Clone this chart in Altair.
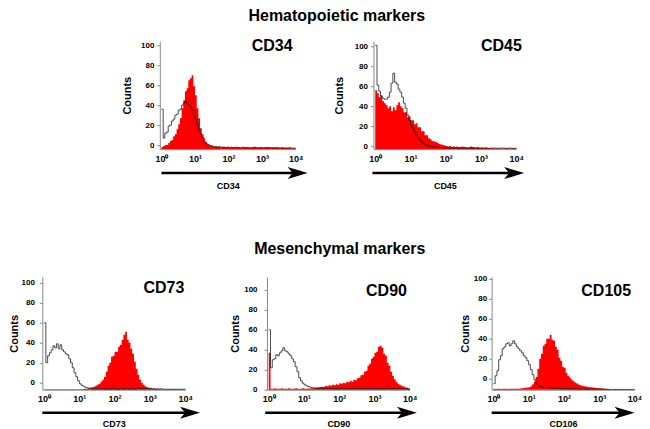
import altair as alt
import pandas as pd

STEP = 0.05  # bin width in decades (log10 units)

# ---- histogram counts per bin, starting at 10^0 ----
cd34_sample = [
    2, 3, 4, 4, 6, 8, 9, 13, 15, 20,
    25, 31, 41, 49, 58, 61, 69, 71, 74, 63,
    54, 41, 31, 21, 15, 11, 7, 5, 4, 3,
    3, 2, 2.5, 2, 2, 1.5, 2, 2, 1.5, 2,
    1.5, 1.5, 2, 1.5, 1.5, 2, 1.5, 1, 1.5, 1.5,
    2, 1.5, 1.5, 1, 1.5, 2, 1.5, 1, 1.5, 1.5,
    1, 1.5, 1.5, 2, 1.5, 1, 1.5, 1, 1.5, 1,
    1, 1.5, 1, 1, 1.5, 1, 1, 0.5, 1, 0.5,
    0]
cd34_control = [
    40, 11, 16, 17, 23, 24, 28, 30, 34, 35,
    39, 40, 44, 46, 48, 46, 44, 42, 39, 34,
    30, 25, 20, 15, 12, 8, 6, 5, 4, 3.5,
    3, 2.5, 2.5, 2, 2.5, 2, 2, 2, 1.5, 2,
    1.5, 2, 1.5, 1.5, 2, 1.5, 1.5, 1.5, 2, 1.5,
    1.5, 1.5, 1, 1.5, 1.5, 2, 1.5, 1.5, 1, 1.5,
    1.5, 1.5, 1.5, 1, 1.5, 1.5, 1, 1.5, 1, 1.5,
    1, 1, 1.5, 1, 1, 1, 1.5, 1, 1, 1,
    0.5]
cd45_sample = [
    59, 56, 52, 54, 48, 46, 44, 41, 43, 38,
    42, 39, 44, 47, 43, 41, 37, 37, 32, 33,
    29, 29, 25, 26, 22, 22, 18, 18, 14, 14,
    11, 10, 8, 7.5, 7, 6, 5, 4.5, 4, 3.5,
    3, 2.5, 3, 2, 2.5, 2, 2.5, 2, 2, 2.5,
    2, 2, 1.5, 2, 2.5, 2, 1.5, 1.5, 2, 1,
    1.5, 1, 1.5, 1, 1, 0.5, 1, 0.5, 0.5, 0.5,
    0.5, 0.5, 0.5, 0.5, 0.5, 0.5, 0.5, 0.5, 0.5, 0.5,
    0]
cd45_control = [
    104, 64, 58, 53, 51, 50, 50, 52, 57, 66,
    76, 67, 65, 60, 57, 52, 46, 41, 34, 29,
    24, 21, 17, 14, 11, 9, 7, 5.5, 4.5, 4,
    3, 2.5, 2.5, 2, 2, 2, 1.5, 1.5, 1.5, 1.5,
    1, 1, 1, 1.5, 1, 1, 1, 0.5, 1, 1,
    1, 1, 0.5, 1, 1, 1, 1, 1, 0.5, 1,
    1, 1, 1, 1, 0.5, 1, 1, 1, 1, 0.5,
    1, 1, 1, 1, 0.5, 1, 1, 1, 0.5, 1,
    0.5]
cd73_sample = [
    0.5, 0.5, 0.5, 0.5, 0.5, 0.5, 0.5, 0.5, 0.5, 0.5,
    0.5, 0.5, 0.5, 0.5, 0.5, 0.5, 0.5, 0.5, 0.5, 0.5,
    0.5, 0.5, 0.8, 1, 1, 1.5, 2, 2.5, 3, 4,
    5, 6, 8, 10, 13, 18, 24, 27, 33, 34,
    38, 38, 43, 45, 50, 55, 58, 50, 47, 41,
    36, 28, 21, 15, 10, 7, 5, 3.5, 2.5, 2,
    1.5, 1, 1, 0.8, 0.5, 0.5, 0.3, 0.3, 0.3, 0.3,
    0.3, 0.3, 0.3, 0.3, 0.3, 0.3, 0.3, 0.3, 0.3, 0.3,
    0]
cd73_control = [
    67, 27, 34, 37, 40, 44, 42, 46, 41, 45,
    40, 38, 36, 35, 31, 27, 22, 17, 13, 9,
    6, 4.5, 3.5, 2.5, 2, 1.5, 1.5, 1, 1, 1,
    1, 1, 1, 1, 0.5, 1, 1, 0.5, 1, 1,
    0.5, 1, 0.5, 1, 1, 0.5, 1, 1, 0.5, 1,
    1, 0.5, 1, 1, 1, 1.5, 1, 1, 1.5, 1,
    1.5, 1, 1, 0.5, 1, 0.5, 1, 0.5, 0.5, 0.5,
    0.5, 0.5, 0.5, 0.5, 0.5, 0.5, 0.5, 0.5, 0.5, 0.5,
    0]
cd90_sample = [
    37, 1, 1, 1.5, 1, 1, 1, 1.5, 1, 1,
    1, 1.5, 1, 1, 1, 1.5, 1, 1, 1, 1.5,
    1, 1, 1.2, 1.3, 1.5, 1.6, 2, 2.2, 2.5, 2.8,
    3, 3, 4, 3.5, 4.5, 4, 5, 4.5, 5.5, 5,
    6.5, 6, 7, 6.5, 8, 7.5, 9, 8, 10, 9.5,
    11.5, 12, 14.5, 15, 18, 19, 24, 26, 31, 33,
    37, 38, 43, 44, 42, 36, 34, 27, 24, 18,
    14, 10.5, 8, 6, 5, 4, 3.2, 2.5, 2, 1.5,
    1]
cd90_control = [
    60, 22, 30, 31, 35, 34, 37, 39, 42, 39,
    38, 36, 34, 31, 28, 23, 18, 12, 9, 6.5,
    5, 4, 3.3, 2.7, 2.2, 1.8, 1.5, 1.5, 1, 1.5,
    1, 1, 1.5, 1, 1, 1, 1.5, 1, 1, 1,
    1, 1.5, 1, 1, 1, 1, 1.5, 1, 1, 1,
    1.5, 1, 1, 1, 1.5, 1, 1, 1, 1, 1.5,
    1, 1, 1.5, 1, 1, 1, 1, 1.5, 1, 1,
    1, 1, 1, 1.5, 1, 1, 1, 1, 1, 0.5,
    0.5]
cd105_sample = [
    1, 0.8, 1, 1, 0.8, 1, 1, 1, 0.8, 1,
    1, 1, 1, 1, 1, 1.2, 1.5, 1.8, 2, 2.3,
    2.5, 3.5, 5.5, 8, 13, 21, 31, 36, 44, 46,
    51, 51, 55, 50, 49, 43, 40, 32, 29, 23,
    22, 17, 14, 12, 10, 8.5, 7.3, 6.3, 5.3, 4.5,
    4, 3.5, 3.2, 3, 2.6, 2.4, 2.2, 2, 1.8, 1.6,
    1.5, 1.2, 1.2, 1, 0.8, 0.5, 0, 0, 0, 0,
    0, 0, 0, 0, 0, 0, 0, 0, 0, 0,
    0]
cd105_control = [
    6, 14, 19, 30, 34, 41, 43, 46, 47, 44,
    46, 49, 46, 43, 41, 39, 37, 34, 32, 29,
    25, 20, 15, 10, 6.5, 4.5, 3.5, 2.8, 2.5, 2.2,
    2, 1.8, 1.7, 1.6, 1.5, 1.5, 1.4, 1.3, 1.2, 1.2,
    1, 1, 0.7, 1, 0.7, 0.7, 1, 0.7, 0.7, 0.5,
    0.7, 0.7, 0.5, 0.7, 0.5, 0.7, 0.5, 0.5, 0.7, 0.5,
    0.5, 0.5, 0.5, 0.3, 0.5, 0.3, 0.3, 0.3, 0.3, 0.3,
    0.3, 0.3, 0.3, 0.3, 0.3, 0.3, 0.3, 0.3, 0.3, 0.3,
    0]

decade_ticks = [0, 1, 2, 3, 4]
decade_labels = ["10\u2070", "10\u00b9", "10\u00b2", "10\u00b3", "10\u2074"]
count_ticks = [0, 20, 40, 60, 80, 100]

FONT = "Arial"
RED = "#ff0000"
GREY = "#8a8a8a"
ARROW = "M-1,-0.6 L1,0 L-1,0.6 L-0.5,0 Z"


def make_df(sample, control):
    rows = []
    for s, vals in (("sample", sample), ("control", control)):
        for i, v in enumerate(vals):
            rows.append({"L": round(i * STEP, 3), "count": v, "series": s})
    return pd.DataFrame(rows)


label_expr = "[" + ",".join("'%s'" % t for t in decade_labels) + "][datum.value]"


def panel(name, xtitle, sample, control, width, height, tick_off, text_x, text_y,
          arrow_from, arrow_to, arrow_dy, label_pad, title_pad, xtitle_pad):
    df = make_df(sample, control)
    xs = alt.Scale(domain=[-0.05, 4], nice=False, zero=False)
    ys = alt.Scale(domain=[0, height], nice=False, zero=True)
    x_axis = alt.Axis(values=decade_ticks, labelExpr=label_expr, ticks=False,
                      domainColor=GREY, labelFont=FONT, labelFontSize=9,
                      labelFontWeight="bold", labelColor="black", labelPadding=5,
                      labelFlush=False, grid=False, title=xtitle, titleFont=FONT,
                      titleFontSize=9, titleFontWeight="bold", titleColor="black",
                      titlePadding=xtitle_pad)
    y_axis = alt.Axis(values=count_ticks, tickOffset=tick_off, tickSize=3, tickColor=GREY,
                      domainColor=GREY, labelFont=FONT, labelFontSize=8,
                      labelFontWeight="bold", labelColor="black", labelPadding=label_pad,
                      labelFlush=False, labelOverlap=False, grid=False, title="Counts",
                      titleFont=FONT, titleFontSize=11, titleFontWeight="bold",
                      titleColor="black", titlePadding=title_pad)
    X = lambda f: alt.X(f, scale=xs, axis=x_axis)
    Y = lambda f: alt.Y(f, scale=ys, axis=y_axis)
    base = alt.Chart(df)
    area = base.transform_filter(alt.datum.series == "sample").mark_area(
        interpolate="step-after", color=RED, opacity=1
    ).encode(x=X("L:Q"), y=Y("count:Q"))
    line = base.transform_filter(alt.datum.series == "control").mark_line(
        interpolate="step-after", color="#1e1e1e", strokeWidth=0.8
    ).encode(x=X("L:Q"), y=Y("count:Q"))
    text = alt.Chart(pd.DataFrame({"L": [text_x], "count": [text_y], "t": [name]})).mark_text(
        font=FONT, fontSize=16, fontWeight="bold", color="black"
    ).encode(x=X("L:Q"), y=Y("count:Q"), text="t:N")
    arrow_df = pd.DataFrame({"L": [arrow_from], "L2": [arrow_to]})
    rule = alt.Chart(arrow_df).mark_rule(strokeWidth=2.5, color="black").encode(
        x=X("L:Q"), x2="L2:Q", y=alt.value(height + arrow_dy))
    head = alt.Chart(arrow_df).mark_point(
        shape=ARROW, filled=True, size=400, color="black", opacity=1, strokeWidth=0
    ).encode(x=X("L2:Q"), y=alt.value(height + arrow_dy))
    return alt.layer(area, line, text, rule, head).properties(width=width, height=height)


p34 = panel("CD34", "CD34", cd34_sample, cd34_control, 136, 108, -4, 3.3, 103, 0.0, 4.06, 24, 3, 8, 18)
p45 = panel("CD45", "CD45", cd45_sample, cd45_control, 143, 108, -3, 3.58, 103, -0.08, 3.94, 24, 3, 10, 18)
p73 = panel("CD73", "CD73", cd73_sample, cd73_control, 143, 113, -7, 3.4, 102, -0.05, 4.14, 23, 5, 2, 16)
p90 = panel("CD90", "CD90", cd90_sample, cd90_control, 143, 113, 0, 3.34, 99, -0.1, 3.92, 23, 7, 3, 16)
p105 = panel("CD105", "CD106", cd105_sample, cd105_control, 143, 113, -11, 3.2, 99, -0.05, 3.72, 23, 2, 3, 16)

top_row = alt.hconcat(p34, p45, spacing=78, bounds="flush",
                      title=alt.TitleParams("Hematopoietic markers", font=FONT, fontSize=16,
                                            fontWeight="bold", color="black", anchor="middle",
                                            frame="bounds", offset=14, dx=14))
bottom_row = alt.hconcat(p73, p90, p105, spacing=82, bounds="flush",
                         title=alt.TitleParams("Mesenchymal markers", font=FONT, fontSize=16,
                                               fontWeight="bold", color="black", anchor="middle",
                                               frame="bounds", offset=18, dx=15))

chart = alt.vconcat(top_row, bottom_row, spacing=50, center=True).properties(
    padding=0, background="white"
).configure_view(stroke=None)

chart.save("out.html", embed_options={"renderer": "svg", "actions": False})
